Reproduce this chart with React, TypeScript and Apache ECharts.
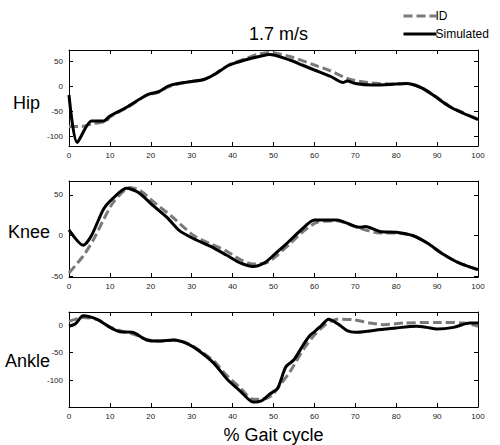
import React, { useEffect, useRef } from "react";
import * as echarts from "echarts";

const xTicks = [0, 10, 20, 30, 40, 50, 60, 70, 80, 90, 100];

const hipSimX = [0, 2, 5.5, 8.5, 10, 14, 19, 22, 24, 26, 30, 33, 36, 39, 43, 47, 49, 54, 57, 60, 64, 67, 68, 70, 74, 78.5, 82.5, 86, 89, 93, 96.5, 100];
const hipSimY = [-18, -113, -70, -70, -60, -43, -18, -11, -1, 4, 9, 13, 25, 41, 52, 60, 63, 52, 42, 32, 19, 7, 10, 5, 2, 3, 5, -3, -18, -41, -55, -67];
const hipIdX = [0, 3, 6, 9, 10, 14, 19, 22, 24, 26, 30, 33, 36, 39, 43, 46, 49, 54, 60, 64, 68, 70, 74, 78.5, 82.5, 86, 89, 93, 96.5, 100];
const hipIdY = [-81, -81, -75, -71, -62, -44, -19, -12, -3, 3, 9, 13, 26, 42, 54, 63, 67, 59, 42, 30, 15, 11, 6, 4, 5, -2, -17, -40, -54, -66];

const kneeSimX = [0, 3.5, 5.5, 8.5, 11, 14, 17, 20.5, 24, 27, 30.5, 34.5, 38.5, 42, 45, 48, 50.5, 53, 57, 60, 65.5, 71, 72.5, 76, 80, 84, 87.5, 91.5, 95.5, 100];
const kneeSimY = [7, -12, 0, 33, 47, 58, 53, 37, 22, 6, -4, -13, -24, -34, -38, -33, -22, -11, 8, 19, 19, 10, 11, 5, 4, 0, -9, -23, -34, -42];
const kneeIdX = [0, 3.5, 6, 8.5, 11, 15, 17.5, 21, 25, 30.5, 34.5, 38.5, 42, 45, 48, 51, 54, 57.5, 61, 65.5, 71, 76, 80, 84, 87.5, 91.5, 95.5, 100];
const kneeIdY = [-46, -25, -5, 20, 42, 59, 55, 40, 24, 0, -10, -19, -30, -35, -34, -24, -10, 6, 17, 18, 9, 3, 3, 0, -9, -23, -34, -42];

const ankleSimX = [0, 1.5, 3.5, 7, 10, 12.5, 15.5, 19, 22, 25.5, 29, 32, 35.5, 38.5, 42, 45, 47, 49, 51, 53, 55, 57.5, 59, 60, 61.5, 63.5, 66, 68, 70, 74, 80, 85, 87.5, 90, 94, 98, 100];
const ankleSimY = [-2, 2, 17, 10, -4, -12, -13, -27, -29, -27, -34, -48, -70, -97, -121, -140, -138, -126, -115, -76, -63, -33, -18, -12, -2, 11, 1, -10, -13, -10, -5, -2, -4, -7, -4, 4, 4];
const ankleIdX = [0, 3.5, 7, 10, 13, 16, 19, 22, 26, 29, 32, 35.5, 38.5, 42, 45, 48, 50, 52, 54, 57.5, 60, 62.5, 65.5, 69.5, 73.5, 77, 82, 90, 96.5, 100];
const ankleIdY = [7, 14, 10, -3, -11, -17, -26, -29, -27, -33, -46, -66, -91, -115, -135, -134, -125, -105, -85, -42, -18, 0, 11, 10, 4, 1, 4, 5, 4, -2];

const panelNames = ["Hip", "Knee", "Ankle"];
const yRanges = [[-120, 72], [-51, 67], [-149, 24]];
const ySplits = [4, 2, 4];
const legendNames = ["ID", "Simulated"];

const FONT = "Liberation Sans, Arial, sans-serif";

const zip = (xs: number[], ys: number[]) => xs.map((x, i) => [x, ys[i]]);

export default function App() {
  const ref = useRef<HTMLDivElement>(null);
  useEffect(() => {
    if (!ref.current) return;
    const chart = echarts.init(ref.current, undefined, { renderer: "svg" });
    const grids = [
      { left: 69, top: 50, width: 409, height: 96 },
      { left: 69, top: 181, width: 409, height: 96 },
      { left: 69, top: 312, width: 409, height: 95 },
    ];
    const axisLine = { show: true, onZero: false, lineStyle: { color: "#000", width: 1 } };
    const axisTick = { show: true, inside: true, length: 4, lineStyle: { color: "#000", width: 1 } };
    const xAxes: any[] = [];
    const yAxes: any[] = [];
    grids.forEach((_, gi) => {
      xAxes.push({
        type: "value", gridIndex: gi, position: "bottom", min: xTicks[0], max: xTicks[xTicks.length - 1], interval: 10,
        axisLine, axisTick, splitLine: { show: false },
        axisLabel: { show: true, fontSize: 8, color: "#222", margin: 5, fontFamily: FONT },
        name: gi === 2 ? "% Gait cycle" : "", nameLocation: "middle", nameGap: 19,
        nameTextStyle: { fontSize: 18, color: "#000", fontFamily: FONT },
      });
      xAxes.push({
        type: "value", gridIndex: gi, position: "top", min: 0, max: 100, interval: 10,
        axisLine, axisTick, splitLine: { show: false }, axisLabel: { show: false },
      });
      yAxes.push({
        type: "value", gridIndex: gi, position: "left", min: yRanges[gi][0], max: yRanges[gi][1], splitNumber: ySplits[gi],
        axisLine, axisTick, splitLine: { show: false },
        axisLabel: { show: true, fontSize: 8, color: "#222", margin: 6, fontFamily: FONT, showMinLabel: false, showMaxLabel: false },
      });
      yAxes.push({
        type: "value", gridIndex: gi, position: "right", min: yRanges[gi][0], max: yRanges[gi][1], splitNumber: ySplits[gi],
        axisLine, axisTick, splitLine: { show: false }, axisLabel: { show: false },
      });
    });
    const data = [
      [zip(hipIdX, hipIdY), zip(hipSimX, hipSimY)],
      [zip(kneeIdX, kneeIdY), zip(kneeSimX, kneeSimY)],
      [zip(ankleIdX, ankleIdY), zip(ankleSimX, ankleSimY)],
    ];
    const series: any[] = [];
    data.forEach((pair, gi) => {
      series.push({
        name: legendNames[0], type: "line", xAxisIndex: gi * 2, yAxisIndex: gi * 2, data: pair[0],
        symbol: "none", smooth: 0.25, lineStyle: { color: "#7a7a7a", width: 3, type: [9, 4] }, itemStyle: { color: "#7a7a7a" },
      });
      series.push({
        name: legendNames[1], type: "line", xAxisIndex: gi * 2, yAxisIndex: gi * 2, data: pair[1],
        symbol: "none", smooth: 0.25, lineStyle: { color: "#000", width: 3 }, itemStyle: { color: "#000" },
      });
    });
    const labelPos = [[13, 103], [8, 232], [5, 361]];
    chart.setOption({
      animation: false,
      backgroundColor: "#fff",
      title: {
        text: "1.7 m/s", left: 273.5, top: 20, textAlign: "center",
        textStyle: { fontSize: 18, fontWeight: "normal", color: "#000", fontFamily: FONT },
      },
      legend: {
        data: legendNames, orient: "vertical", left: 397, top: 5, itemWidth: 33, itemHeight: 12, itemGap: 6,
        itemStyle: { opacity: 0 },
        lineStyle: { width: 3 },
        textStyle: { fontSize: 12, color: "#000", fontFamily: FONT, padding: [0, 0, 0, -6] },
      },
      graphic: panelNames.map((n, i) => ({
        type: "text", x: labelPos[i][0], y: labelPos[i][1],
        style: { text: n, fontSize: 18, fontFamily: FONT, fill: "#000", verticalAlign: "middle" },
      })),
      grid: grids,
      xAxis: xAxes,
      yAxis: yAxes,
      series,
    });
    return () => chart.dispose();
  }, []);
  return <div ref={ref} style={{ position: "fixed", left: 0, top: 0, width: 500, height: 445 }} />;
}
